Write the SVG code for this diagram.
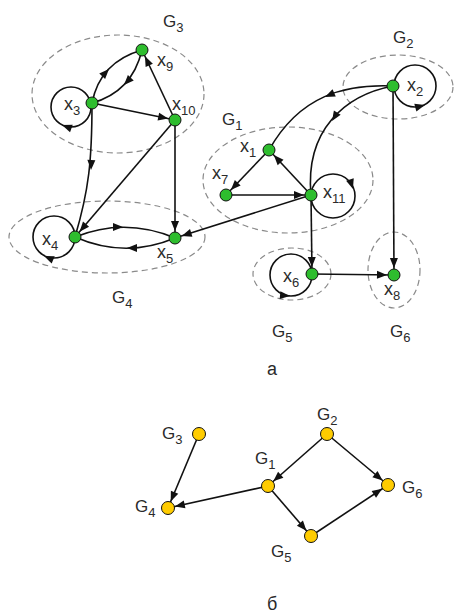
<svg xmlns="http://www.w3.org/2000/svg" xmlns:xlink="http://www.w3.org/1999/xlink" width="456" height="616" viewBox="0 0 456 616">
<style>
.grp{fill:none;stroke:#8a8a8a;stroke-width:1.2;stroke-dasharray:6,4}
.e{fill:none;stroke:#111;stroke-width:1.6}
.s{marker-end:url(#arr)}
.ah{fill:#111}
.ng{fill:#2ebd2e;stroke:#111;stroke-width:1}
.ny{fill:#ffcc00;stroke:#111;stroke-width:1}
text{font-family:"Liberation Sans",Arial,sans-serif;fill:#2a2a2a}
.xl{font-size:18px}
.gl{font-size:17px}
.sub{font-size:13px}
.cap{font-size:18px}
</style>
<defs>
<marker id="arr" markerUnits="userSpaceOnUse" markerWidth="12" markerHeight="10" refX="17" refY="4" orient="auto" overflow="visible">
<path d="M0,0 L10,4 L0,8 Z" fill="#111"/>
</marker>
<path id="ah" d="M0,0 L-10,-4 L-10,4 Z"/>
</defs>

<g id="groups">
<ellipse class="grp" cx="118" cy="94" rx="86" ry="59"/>
<ellipse class="grp" cx="107" cy="237" rx="98" ry="36"/>
<ellipse class="grp" cx="398" cy="87" rx="55" ry="32"/>
<ellipse class="grp" cx="288" cy="180" rx="85" ry="53"/>
<ellipse class="grp" cx="292" cy="274" rx="39" ry="26"/>
<ellipse class="grp" cx="394" cy="270" rx="26" ry="38"/>
</g>

<g id="connectors">
<path class="e" d="M92,103 Q100,62 142,50"/>
<use href="#ah" class="ah" transform="translate(109,69) rotate(-47)"/>
<path class="e" d="M142,50 Q132,92 92,103"/>
<use href="#ah" class="ah" transform="translate(124,85) rotate(133)"/>
<circle class="e" cx="71" cy="107" r="20"/>
<use href="#ah" class="ah" transform="translate(62,125) rotate(200)"/>
<path class="e s" d="M175,120 L142,50"/>
<path class="e s" d="M92,103 L175,120"/>
<path class="e" d="M92,103 C92,160 89,190 75,237"/>
<use href="#ah" class="ah" transform="translate(91,170) rotate(92)"/>
<path class="e s" d="M175,120 L75,237"/>
<path class="e s" d="M175,120 L175,238"/>
<path class="e" d="M75,237 Q125,217 175,238"/>
<use href="#ah" class="ah" transform="translate(123,227) rotate(0)"/>
<path class="e" d="M175,238 Q125,259 75,237"/>
<use href="#ah" class="ah" transform="translate(127,248) rotate(180)"/>
<circle class="e" cx="54" cy="237" r="21"/>
<use href="#ah" class="ah" transform="translate(44,256) rotate(203)"/>
<path class="e s" d="M311,195 L175,238"/>
<path class="e s" d="M226,195 L311,195"/>
<path class="e s" d="M311,195 L269,150"/>
<path class="e s" d="M269,150 L226,195"/>
<circle class="e" cx="333" cy="196" r="22"/>
<use href="#ah" class="ah" transform="translate(353,189) rotate(72)"/>
<circle class="e" cx="415" cy="86" r="21"/>
<use href="#ah" class="ah" transform="translate(425,105) rotate(-15)"/>
<path class="e" d="M393,86 C345,84 300,95 269,150"/>
<use href="#ah" class="ah" transform="translate(325,97) rotate(156)"/>
<path class="e" d="M393,86 C345,95 305,130 311,195"/>
<use href="#ah" class="ah" transform="translate(332,121) rotate(122)"/>
<path class="e s" d="M393,86 L394,275"/>
<path class="e s" d="M311,195 L312,274"/>
<path class="e s" d="M312,274 L394,275"/>
<circle class="e" cx="291" cy="275" r="21"/>
<use href="#ah" class="ah" transform="translate(290,296) rotate(5)"/>
<path class="e s" d="M199,434 L168,508"/>
<path class="e s" d="M268,486 L168,508"/>
<path class="e s" d="M327,434 L268,486"/>
<path class="e s" d="M327,434 L388,485"/>
<path class="e s" d="M268,486 L311,536"/>
<path class="e s" d="M311,536 L388,485"/>
</g>

<g id="x1"><circle class="ng" cx="269" cy="150" r="6"/><text class="xl" x="240" y="152">x<tspan class="sub" dy="5">1</tspan></text></g>
<g id="x2"><circle class="ng" cx="393" cy="86" r="6"/><text class="xl" x="407" y="91">x<tspan class="sub" dy="5">2</tspan></text></g>
<g id="x3"><circle class="ng" cx="92" cy="103" r="6"/><text class="xl" x="64" y="110">x<tspan class="sub" dy="5">3</tspan></text></g>
<g id="x4"><circle class="ng" cx="75" cy="237" r="6"/><text class="xl" x="42" y="245">x<tspan class="sub" dy="5">4</tspan></text></g>
<g id="x5"><circle class="ng" cx="175" cy="238" r="6"/><text class="xl" x="157" y="258">x<tspan class="sub" dy="5">5</tspan></text></g>
<g id="x6"><circle class="ng" cx="312" cy="274" r="6"/><text class="xl" x="283" y="282">x<tspan class="sub" dy="5">6</tspan></text></g>
<g id="x7"><circle class="ng" cx="226" cy="195" r="6"/><text class="xl" x="212" y="179">x<tspan class="sub" dy="5">7</tspan></text></g>
<g id="x8"><circle class="ng" cx="394" cy="275" r="6"/><text class="xl" x="384" y="295">x<tspan class="sub" dy="5">8</tspan></text></g>
<g id="x9"><circle class="ng" cx="142" cy="50" r="6"/><text class="xl" x="157" y="66">x<tspan class="sub" dy="5">9</tspan></text></g>
<g id="x10"><circle class="ng" cx="175" cy="120" r="6"/><text class="xl" x="172" y="110">x<tspan class="sub" dy="5">10</tspan></text></g>
<g id="x11"><circle class="ng" cx="311" cy="195" r="6"/><text class="xl" x="323" y="198">x<tspan class="sub" dy="5">11</tspan></text></g>

<g id="labels-a">
<text class="gl" x="163" y="27">G<tspan class="sub" dy="5">3</tspan></text>
<text class="gl" x="393" y="43">G<tspan class="sub" dy="5">2</tspan></text>
<text class="gl" x="222" y="125">G<tspan class="sub" dy="5">1</tspan></text>
<text class="gl" x="112" y="303">G<tspan class="sub" dy="5">4</tspan></text>
<text class="gl" x="272" y="337">G<tspan class="sub" dy="5">5</tspan></text>
<text class="gl" x="390" y="337">G<tspan class="sub" dy="5">6</tspan></text>
<text class="cap" x="267" y="375">а</text>
</g>

<g id="nG1"><circle class="ny" cx="268" cy="486" r="6.5"/><text class="gl" x="255" y="464">G<tspan class="sub" dy="5">1</tspan></text></g>
<g id="nG2"><circle class="ny" cx="327" cy="434" r="6.5"/><text class="gl" x="317" y="420">G<tspan class="sub" dy="5">2</tspan></text></g>
<g id="nG3"><circle class="ny" cx="199" cy="434" r="6.5"/><text class="gl" x="162" y="439">G<tspan class="sub" dy="5">3</tspan></text></g>
<g id="nG4"><circle class="ny" cx="168" cy="508" r="6.5"/><text class="gl" x="135" y="512">G<tspan class="sub" dy="5">4</tspan></text></g>
<g id="nG5"><circle class="ny" cx="311" cy="536" r="6.5"/><text class="gl" x="271" y="557">G<tspan class="sub" dy="5">5</tspan></text></g>
<g id="nG6"><circle class="ny" cx="388" cy="485" r="6.5"/><text class="gl" x="402" y="493">G<tspan class="sub" dy="5">6</tspan></text></g>
<text class="cap" x="267" y="610">б</text>
</svg>
